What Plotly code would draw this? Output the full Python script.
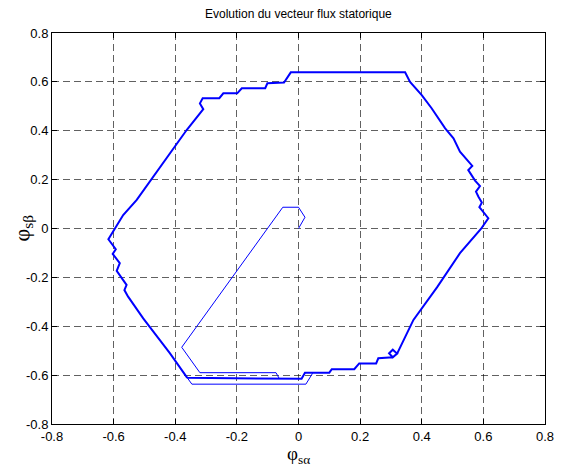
import plotly.graph_objects as go

# Start-up transient of the stator flux vector (from the origin)
transient_x = [0.0, 0.021, 0.0, -0.051, -0.379, -0.320, -0.073, -0.062]
transient_y = [0.0, 0.046, 0.087, 0.087, -0.486, -0.590, -0.590, -0.615]

# Established hexagonal trajectory (counter-clockwise lap)
hexagon_x = [-0.361, 0.010, 0.021, 0.100, 0.108, 0.181, 0.197, 0.252, 0.259, 0.306,
             0.320, 0.306, 0.294, 0.306, 0.320, 0.373, 0.450, 0.524, 0.592, 0.616,
             0.587, 0.595, 0.584, 0.576, 0.589, 0.573, 0.551, 0.564, 0.524, 0.503,
             0.476, 0.432, 0.400, 0.362, 0.346, -0.025, -0.047, -0.101, -0.108, -0.184,
             -0.199, -0.244, -0.257, -0.311, -0.320, -0.309, -0.363, -0.406, -0.471, -0.525,
             -0.569, -0.617, -0.593, -0.603, -0.580, -0.590, -0.569, -0.558, -0.565, -0.553,
             -0.504, -0.417, -0.361]
hexagon_y = [-0.611, -0.615, -0.590, -0.590, -0.576, -0.576, -0.552, -0.552, -0.531, -0.527,
             -0.512, -0.496, -0.511, -0.527, -0.512, -0.374, -0.240, -0.101, -0.002, 0.042,
             0.087, 0.106, 0.130, 0.151, 0.174, 0.196, 0.239, 0.256, 0.314, 0.369,
             0.410, 0.492, 0.546, 0.600, 0.639, 0.639, 0.597, 0.594, 0.574, 0.574,
             0.553, 0.553, 0.533, 0.533, 0.512, 0.488, 0.403, 0.328, 0.212, 0.117,
             0.055, -0.044, -0.085, -0.104, -0.142, -0.173, -0.211, -0.231, -0.252, -0.279,
             -0.368, -0.511, -0.611]

# Single pass along the lower edge
bottom_x = [-0.361, -0.346, 0.024, 0.046]
bottom_y = [-0.611, -0.637, -0.637, -0.592]

tick_vals = [-0.8, -0.6, -0.4, -0.2, 0.0, 0.2, 0.4, 0.6, 0.8]
tick_text = ["-0.8", "-0.6", "-0.4", "-0.2", "0", "0.2", "0.4", "0.6", "0.8"]

BLUE = "#0000FF"

fig = go.Figure()
fig.add_trace(go.Scatter(x=transient_x, y=transient_y, mode="lines",
                         line=dict(color=BLUE, width=1), showlegend=False))
fig.add_trace(go.Scatter(x=bottom_x, y=bottom_y, mode="lines",
                         line=dict(color=BLUE, width=1), showlegend=False))
fig.add_trace(go.Scatter(x=hexagon_x, y=hexagon_y, mode="lines",
                         line=dict(color=BLUE, width=2), showlegend=False))

axis_common = dict(
    range=[-0.8, 0.8],
    tickvals=tick_vals,
    ticktext=tick_text,
    ticks="inside",
    ticklen=5,
    tickcolor="black",
    showline=True,
    linecolor="black",
    linewidth=1,
    mirror="allticks",
    showgrid=True,
    gridcolor="rgba(0,0,0,0.62)",
    gridwidth=1,
    griddash="7px,4px",
    zeroline=False,
    tickfont=dict(family="Liberation Sans, Arial, sans-serif", size=13, color="black"),
)

fig.update_layout(
    width=568,
    height=470,
    margin=dict(l=52, r=23, t=33, b=46),
    paper_bgcolor="white",
    plot_bgcolor="white",
    xaxis=dict(**axis_common),
    yaxis=dict(**axis_common),
    annotations=[
        dict(text="Evolution du vecteur flux statorique", xref="paper", yref="paper",
             x=0.5, y=1, yshift=19, xanchor="center", yanchor="middle", showarrow=False,
             font=dict(family="Liberation Sans, Arial, sans-serif", size=12, color="black")),
        dict(text="φ<sub>sα</sub>", xref="paper", yref="paper",
             x=0.5, y=0, yshift=-31, xanchor="center", yanchor="middle", showarrow=False,
             borderpad=0,
             font=dict(family="Liberation Serif, Times New Roman, serif", size=19, color="black")),
        dict(text="φ<sub>sβ</sub>", xref="paper", yref="paper", textangle=-90,
             x=0, y=0.5, xshift=-30, xanchor="center", yanchor="middle", showarrow=False,
             font=dict(family="Liberation Serif, Times New Roman, serif", size=22, color="black")),
    ],
)

fig.write_html("out.html")
